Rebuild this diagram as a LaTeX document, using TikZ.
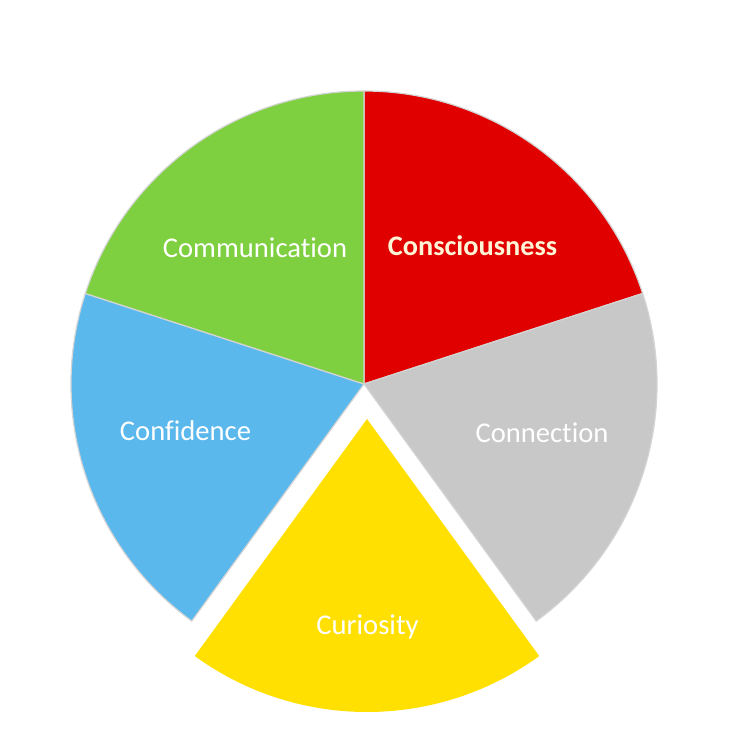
\documentclass[tikz,border=0pt]{standalone}
\usepackage{fontspec}
\setmainfont{Carlito}[Ligatures=NoCommon]
\definecolor{cred}{HTML}{E00000}
\definecolor{cgray}{HTML}{C8C8C8}
\definecolor{cyellow}{HTML}{FFE000}
\definecolor{cblue}{HTML}{5BB8EC}
\definecolor{cgreen}{HTML}{7ED040}
\definecolor{cream}{HTML}{FFF5D6}
\definecolor{edge}{HTML}{D4D4D4}
\begin{document}
\begin{tikzpicture}[x=1pt,y=1pt,
  sector/.style={draw=edge,line width=1.2pt,line join=miter},
  lbl/.style={text=white,font=\fontsize{28.6}{32}\selectfont,inner sep=0pt}]
\useasboundingbox (0,0) rectangle (738,734);
\fill[white] (0,0) rectangle (738,734);
\coordinate (c) at (364,350);
\coordinate (cy) at (367,315);
\def\R{293}
% sectors
\fill[cred,sector] (c) -- ++(90:\R) arc[start angle=90,end angle=18,radius=\R] -- cycle;
\fill[cgray,sector] (c) -- ++(18:\R) arc[start angle=18,end angle=-54,radius=\R] -- cycle;
\fill[cblue,sector] (c) -- ++(-126:\R) arc[start angle=-126,end angle=-198,radius=\R] -- cycle;
\fill[cgreen,sector] (c) -- ++(162:\R) arc[start angle=162,end angle=90,radius=\R] -- cycle;
\fill[cyellow] (cy) -- ++(-54:\R) arc[start angle=-54,end angle=-126,radius=\R] -- cycle;
% labels
\node[lbl] (comm) at (255,486) {Communication};
\node[lbl,text=cream,font=\fontsize{28.3}{31}\selectfont\bfseries] (cons) at (472.5,488) {Consciousness};
\node[lbl] (conf) at (185.5,303) {Confidence};
\node[lbl] (conn) at (542,301) {Connection};
\node[lbl] (cur) at (367.5,107) {Curiosity};
\end{tikzpicture}
\end{document}
